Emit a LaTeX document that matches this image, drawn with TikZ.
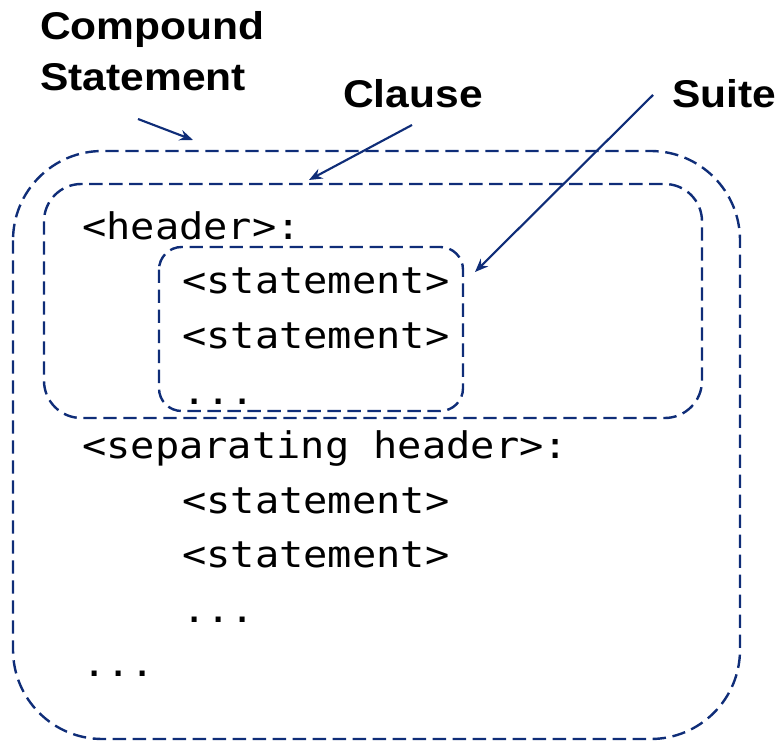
\documentclass[tikz,border=0pt]{standalone}
\usepackage{fontspec}
\setsansfont{Liberation Sans}[FakeStretch=1.1]
\setmonofont{DejaVu Sans Mono}[FakeStretch=1.1]
\usetikzlibrary{arrows.meta}
\definecolor{boxblue}{RGB}{15,45,120}
\tikzset{
  box/.style={draw=boxblue, line width=1.8pt, dash pattern=on 10pt off 5pt},
  code/.style={font=\ttfamily\fontsize{27.5}{33}\selectfont, anchor=base west, inner sep=0pt},
  tag/.style={font=\sffamily\bfseries\fontsize{29}{38.25}\selectfont, anchor=base west,
    inner sep=0pt, align=left},
  pointer/.style={draw=boxblue, line width=1.6pt, -{Stealth[length=10pt,width=8pt]}}
}

\begin{document}
\begin{tikzpicture}[x=0.75pt,y=-0.75pt]
\useasboundingbox (0,0) rectangle (781,741);

% compound statement, clause, suite
\draw[box, rounded corners=67pt] (13,151) rectangle (740,739);
\draw[box, rounded corners=28pt] (44,184) rectangle (702,418);
\draw[box, rounded corners=17pt] (159,247) rectangle (463,411);

% code lines
\foreach \nm/\x/\y/\txt in {hdr/82/240/{<header>:},
    stA/182/294/{<statement>}, stB/182/349/{<statement>}, dotsA/182/404/{...},
    sep/82/458/{<separating header>:},
    stC/182/513/{<statement>}, stD/182/567/{<statement>}, dotsB/182/622/{...},
    dotsC/82/676/{...}} {
  \node[code] (\nm) at (\x,\y) {\txt};
}

% labels (base of a two-line node is its last line)
\node[tag] (cmpd) at (40,91) {Compound\\Statement};
\node[tag] (clause) at (343,108) {Clause};
\node[tag] (suite) at (672,108) {Suite};

\coordinate (cmpd tail) at (138,119);
\coordinate (cmpd head) at (193,140);
\coordinate (clause tail) at (412,125);
\coordinate (clause head) at (309,180);
\coordinate (suite tail) at (653,95);
\coordinate (suite head) at (475,272);
\draw[pointer] (cmpd tail) -- (cmpd head);
\draw[pointer] (clause tail) -- (clause head);
\draw[pointer] (suite tail) -- (suite head);
\end{tikzpicture}
\end{document}
